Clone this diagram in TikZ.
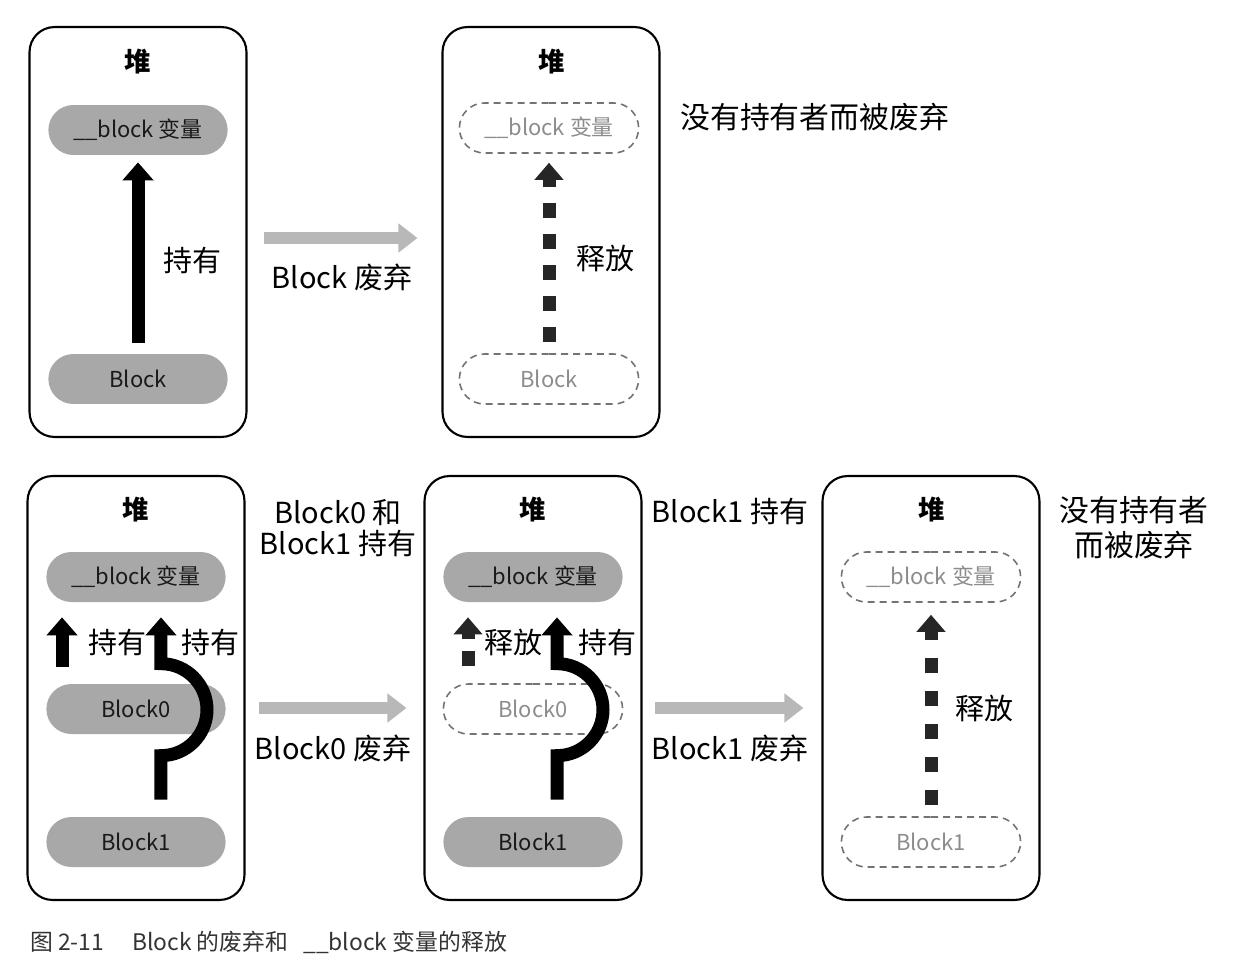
\documentclass[tikz,border=0pt]{standalone}
\usepackage{fontspec}
\setmainfont{Noto Sans CJK SC}
\usetikzlibrary{arrows.meta,shapes.misc}

\tikzset{
    heap/.style={draw, line width=1.2pt, rounded corners=0.5cm, minimum width=4.34cm},
    obj/.style={rounded rectangle, fill=black!34, text=black!90,
        minimum width=3.82cm, minimum height=1cm, font=\fontsize{12.5}{14}\selectfont},
    gone/.style={rounded rectangle, draw=black!55, line width=0.9pt,
        dash pattern=on 0.14cm off 0.1cm, text=black!45,
        minimum width=3.82cm, minimum height=1cm, font=\fontsize{12.5}{14}\selectfont},
    hold/.style={line width=0.26cm, -{Triangle[width=0.6cm,length=0.36cm]}},
    release/.style={line width=0.26cm, draw=black!85, dash pattern=on 0.3cm off 0.32cm,
        -{Triangle[width=0.56cm,length=0.34cm]}},
    stepline/.style={line width=0.24cm, draw=black!28, -{Triangle[width=0.56cm,length=0.38cm]}},
    lbl/.style={font=\fontsize{16.5}{19.8}\selectfont, inner sep=0pt},
    note/.style={font=\fontsize{17}{19.8}\selectfont, align=center},
    heaptitle/.style={font=\fontsize{15}{18}\selectfont\bfseries},
}

\begin{document}
\begin{tikzpicture}[x=0.02cm, y=-0.02cm]

    \useasboundingbox (0,0) rectangle (1234,970);

    % Top left: block holds the variable
    \node[heap, minimum height=8.2cm] (heapA) at (138,232) {};
    \node[heaptitle] (titleA) at (138,62) {堆};
    \node[obj] (varA) at (138,130) {\_\_block 变量};
    \node[obj] (blkA) at (138,379) {Block};
    \draw[hold] ([yshift=0.22cm]blkA.north) -- ([yshift=-0.14cm]varA.south);
    \node[lbl, anchor=west] (holdA) at (163,260) {持有};

    % Top right: both released
    \node[heap, minimum height=8.2cm] (heapB) at (551,232) {};
    \node[heaptitle] (titleB) at (552,62) {堆};
    \node[gone] (varB) at (549,128) {\_\_block 变量};
    \node[gone] (blkB) at (549,379) {Block};
    \draw[release, dash pattern=on 0.3cm off 0.32cm] ([yshift=0.22cm]blkB.north) -- ([yshift=-0.18cm]varB.south);
    \node[lbl, anchor=west] (relB) at (576,258) {释放};
    \node[note, anchor=west, inner sep=0pt] (noteB) at (680,117) {没有持有者而被废弃};

    % Transition
    \draw[stepline] ([xshift=0.32cm,yshift=-0.12cm]heapA.east) -- ([xshift=-0.48cm,yshift=-0.12cm]heapB.west);
    \node[lbl] (stepAB) at (342,277) {Block 废弃};

    % Bottom left: two holders
    \node[heap, minimum height=8.48cm] (heapC) at (136,688) {};
    \node[heaptitle] (titleC) at (136,510) {堆};
    \node[obj] (varC) at (136,577) {\_\_block 变量};
    \node[obj] (blk0C) at (136,709) {Block0};
    \node[obj] (blk1C) at (136,842) {Block1};
    \draw[hold] ([xshift=-1.48cm,yshift=0.34cm]blk0C.north) -- ([xshift=-1.48cm,yshift=-0.3cm]varC.south);
    \draw[hold] ([xshift=0.5cm,yshift=0.34cm]blk1C.north) -- ++(0,-44)
        arc[start angle=90, end angle=-90, radius=46] -- ([xshift=0.5cm,yshift=-0.3cm]varC.south);
    \node[lbl, anchor=west] (hold0C) at (88,642) {持有};
    \node[lbl, anchor=west] (hold1C) at (181,642) {持有};
    \node[note, font=\fontsize{16.5}{17.5}\selectfont] (noteC) at (338,528) {Block0 和\\Block1 持有};

    % Bottom middle: Block0 gone
    \node[heap, minimum height=8.48cm] (heapD) at (533,688) {};
    \node[heaptitle] (titleD) at (533,510) {堆};
    \node[obj] (varD) at (533,577) {\_\_block 变量};
    \node[gone] (blk0D) at (533,709) {Block0};
    \node[obj] (blk1D) at (533,842) {Block1};
    \draw[release, dash pattern=on 0.3cm off 0.24cm] ([xshift=-1.3cm,yshift=0.34cm]blk0D.north) -- ([xshift=-1.3cm,yshift=-0.3cm]varD.south);
    \draw[hold] ([xshift=0.48cm,yshift=0.34cm]blk1D.north) -- ++(0,-44)
        arc[start angle=90, end angle=-90, radius=46] -- ([xshift=0.48cm,yshift=-0.3cm]varD.south);
    \node[lbl, anchor=west] (relD) at (484,642) {释放};
    \node[lbl, anchor=west] (holdD) at (578,642) {持有};
    \node[lbl] (noteD) at (730,511) {Block1 持有};

    % Transition
    \draw[stepline] ([xshift=0.26cm,yshift=-0.4cm]heapC.east) -- ([xshift=-0.34cm,yshift=-0.4cm]heapD.west);
    \node[lbl] (stepCD) at (333,748) {Block0 废弃};

    % Bottom right: all released
    \node[heap, minimum height=8.48cm] (heapE) at (931,688) {};
    \node[heaptitle] (titleE) at (932,510) {堆};
    \node[gone] (varE) at (931,577) {\_\_block 变量};
    \node[gone] (blk1E) at (931,842) {Block1};
    \draw[release, dash pattern=on 0.3cm off 0.36cm] ([yshift=0.22cm]blk1E.north) -- ([yshift=-0.24cm]varE.south);
    \node[lbl, anchor=west] (relE) at (955,708) {释放};
    \node[note] (noteE) at (1134,528) {没有持有者\\而被废弃};

    % Transition
    \draw[stepline] ([xshift=0.24cm,yshift=-0.4cm]heapD.east) -- ([xshift=-0.36cm,yshift=-0.4cm]heapE.west);
    \node[lbl] (stepDE) at (730,748) {Block1 废弃};

    % Caption
    \node[anchor=west, inner sep=0pt, text=black!80, font=\fontsize{13}{15}\selectfont] (caption) at (30,942)
        {图 2-11\hspace{0.56cm}Block 的废弃和\hspace{0.3cm}\_\_block 变量的释放};

\end{tikzpicture}
\end{document}
